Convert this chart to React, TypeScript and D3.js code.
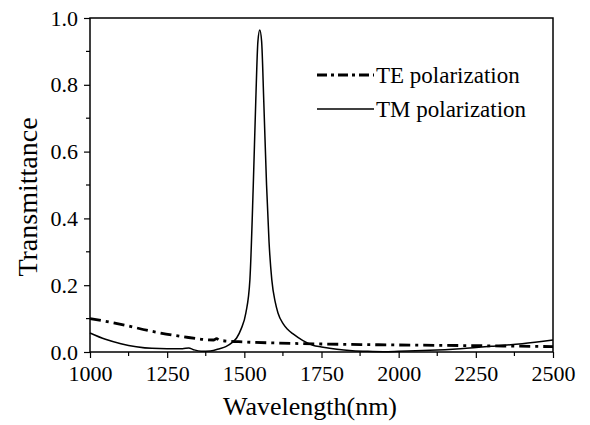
import { useEffect, useRef } from "react";
import * as d3 from "d3";

// TM polarization (solid)
const tmWavelength = [
  1000, 1050, 1100, 1150, 1200, 1250, 1300, 1320, 1335, 1360, 1390, 1420, 1440, 1460,
  1475, 1490, 1505, 1518, 1529, 1537, 1544, 1550, 1556, 1563, 1572, 1580, 1589, 1600,
  1609, 1626, 1640, 1658, 1690, 1722, 1750, 1800, 1850, 1900, 1950, 2000, 2100, 2200,
  2300, 2400, 2500,
];
const tmValues = [
  0.057, 0.038, 0.025, 0.016, 0.011, 0.01, 0.01, 0.012, 0.007, 0.002, 0.003, 0.01, 0.016,
  0.028, 0.042, 0.07, 0.117, 0.216, 0.5, 0.75, 0.93, 0.964, 0.93, 0.75, 0.5, 0.33, 0.216,
  0.15, 0.117, 0.084, 0.068, 0.054, 0.034, 0.02, 0.015, 0.008, 0.004, 0.002, 0.001, 0.002,
  0.005, 0.01, 0.017, 0.025, 0.036,
];

// TE polarization (dash-dot)
const teWavelength = [1000, 1100, 1200, 1300, 1400, 1410, 1420, 1500, 1600, 1750, 2000, 2250, 2500];
const teValues = [0.1, 0.083, 0.062, 0.046, 0.036, 0.04, 0.035, 0.03, 0.027, 0.024, 0.021, 0.019, 0.016];

const xTicks = [1000, 1250, 1500, 1750, 2000, 2250, 2500];
const yTicks = [0, 0.2, 0.4, 0.6, 0.8, 1.0];

const App = () => {
  const svgRef = useRef<SVGSVGElement>(null);

  useEffect(() => {
    if (!svgRef.current) return;
    const svg = d3.select(svgRef.current);
    svg.selectAll("*").remove();

    const margin = { top: 18, right: 37, bottom: 73, left: 90 };
    const width = 590;
    const height = 425;
    const font = "Liberation Serif, serif";

    const x = d3
      .scaleLinear()
      .domain([1000, 2500])
      .range([margin.left, width - margin.right]);
    const y = d3
      .scaleLinear()
      .domain([0, 1])
      .range([height - margin.bottom, margin.top]);

    // frame
    svg
      .append("rect")
      .attr("x", x(1000))
      .attr("y", y(1))
      .attr("width", x(2500) - x(1000))
      .attr("height", y(0) - y(1))
      .attr("fill", "none")
      .attr("stroke", "#000")
      .attr("stroke-width", 1.5);

    // minor ticks
    const xMinor = d3.range(1125, 2500, 250);
    const yMinor = d3.range(0.1, 1, 0.2);
    svg
      .append("g")
      .selectAll("line")
      .data(xMinor)
      .join("line")
      .attr("x1", (d) => x(d))
      .attr("x2", (d) => x(d))
      .attr("y1", y(0))
      .attr("y2", y(0) + 4)
      .attr("stroke", "#000")
      .attr("stroke-width", 1.2);
    svg
      .append("g")
      .selectAll("line")
      .data(yMinor)
      .join("line")
      .attr("x1", x(1000) - 4)
      .attr("x2", x(1000))
      .attr("y1", (d) => y(d))
      .attr("y2", (d) => y(d))
      .attr("stroke", "#000")
      .attr("stroke-width", 1.2);

    const xAxis = svg
      .append("g")
      .attr("transform", `translate(0,${y(0)})`)
      .call(d3.axisBottom(x).tickValues(xTicks).tickSize(6).tickPadding(7).tickFormat(d3.format("d")));
    const yAxis = svg
      .append("g")
      .attr("transform", `translate(${x(1000)},0)`)
      .call(d3.axisLeft(y).tickValues(yTicks).tickSize(6).tickPadding(6).tickFormat(d3.format(".1f")));

    [xAxis, yAxis].forEach((g) => {
      g.attr("font-family", font).attr("font-size", 22);
      g.select(".domain").remove();
      g.selectAll("line").attr("stroke", "#000").attr("stroke-width", 1.2);
      g.selectAll("text").attr("fill", "#000");
    });

    // curves
    const teLine = d3
      .line<number>()
      .x((_, i) => x(teWavelength[i]))
      .y((d) => y(d))
      .curve(d3.curveMonotoneX);
    const tmLine = d3
      .line<number>()
      .x((_, i) => x(tmWavelength[i]))
      .y((d) => y(d))
      .curve(d3.curveMonotoneX);

    svg
      .append("path")
      .attr("d", tmLine(tmValues))
      .attr("fill", "none")
      .attr("stroke", "#000")
      .attr("stroke-width", 1.5);

    svg
      .append("path")
      .attr("d", teLine(teValues))
      .attr("fill", "none")
      .attr("stroke", "#000")
      .attr("stroke-width", 2.8)
      .attr("stroke-dasharray", "11,5,3,5");

    // legend
    const legend = [
      { label: "TE polarization", dash: "10,4,3,4", w: 2.8, yy: 75 },
      { label: "TM polarization", dash: null, w: 1.5, yy: 109 },
    ];
    legend.forEach((l) => {
      svg
        .append("line")
        .attr("x1", 317)
        .attr("x2", 374)
        .attr("y1", l.yy)
        .attr("y2", l.yy)
        .attr("stroke", "#000")
        .attr("stroke-width", l.w)
        .attr("stroke-dasharray", l.dash);
      svg
        .append("text")
        .attr("x", 376)
        .attr("y", l.yy + 8)
        .attr("font-family", font)
        .attr("font-size", 23)
        .text(l.label);
    });

    // axis titles
    svg
      .append("text")
      .attr("x", 310)
      .attr("y", 415)
      .attr("text-anchor", "middle")
      .attr("font-family", font)
      .attr("font-size", 26)
      .text("Wavelength(nm)");
    svg
      .append("text")
      .attr("transform", `translate(37,197) rotate(-90)`)
      .attr("text-anchor", "middle")
      .attr("font-family", font)
      .attr("font-size", 28)
      .text("Transmittance");
  }, []);

  return (
    <div style={{ position: "absolute", left: 0, top: 0 }}>
      <svg ref={svgRef} width={590} height={425} style={{ display: "block", background: "#fff" }} />
    </div>
  );
};

export default App;
